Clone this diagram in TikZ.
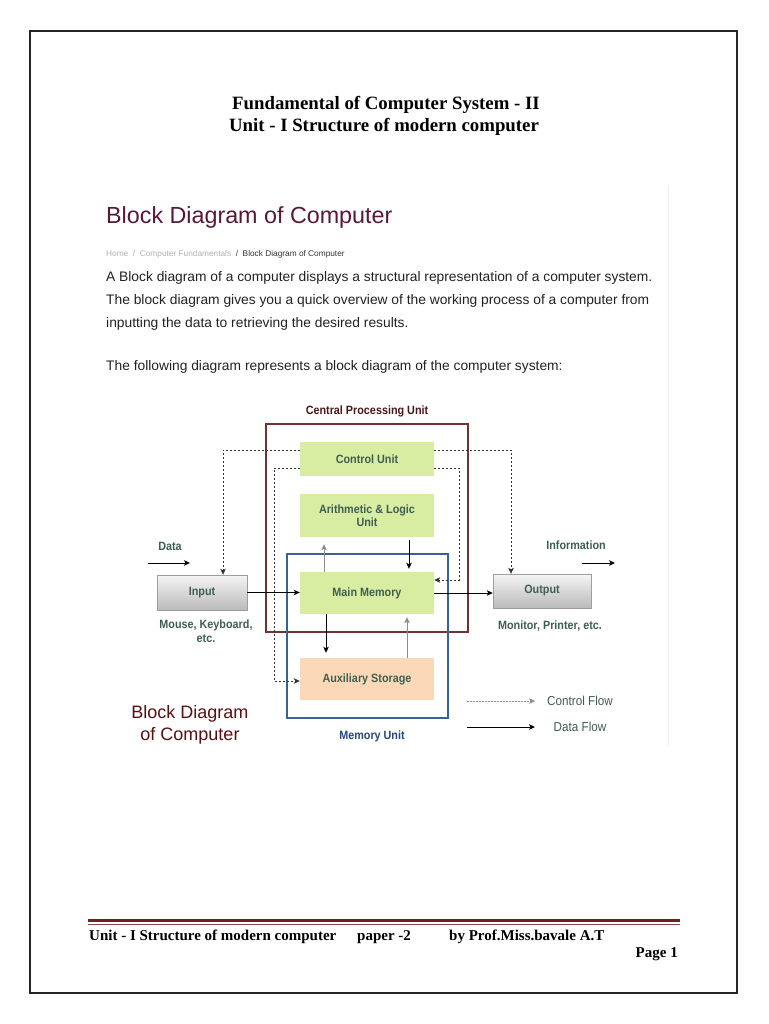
\documentclass[tikz,border=0pt]{standalone}
\usepackage{fontspec}
\setmainfont{Liberation Serif}
\newfontfamily\arialf{Liberation Sans}
\newfontfamily\diagf[FakeStretch=0.9]{Liberation Sans}
\usetikzlibrary{arrows.meta}
\definecolor{cpuc}{HTML}{6B3535}
\definecolor{memc}{HTML}{3A6190}
\definecolor{boxg}{HTML}{D8EDA2}
\definecolor{boxo}{HTML}{FCD9B6}
\definecolor{lbl}{HTML}{3F5E53}
\definecolor{headc}{HTML}{5A1838}
\definecolor{cputxt}{HTML}{4A1818}
\definecolor{memtxt}{HTML}{23477A}
\definecolor{footr}{HTML}{6E1F1F}
\definecolor{footl}{HTML}{9A4A4A}
\definecolor{bdc}{HTML}{5A1010}
\definecolor{txt}{HTML}{222222}
\tikzset{
  ttl/.style={font=\bfseries\fontsize{18.8}{22}\selectfont, anchor=base},
  para/.style={font=\arialf\fontsize{13.8}{16}\selectfont, text=txt, anchor=base west, inner sep=0},
  foot/.style={font=\bfseries\fontsize{15}{17}\selectfont, anchor=base west, inner sep=0},
  unitbox/.style={fill=boxg, draw=none, font=\diagf\bfseries\fontsize{12}{13.5}\selectfont, text=lbl, align=center, inner sep=0, minimum width=134pt},
  iobox/.style={draw=black!38, top color=black!4, bottom color=black!27, font=\diagf\bfseries\fontsize{12}{13.5}\selectfont, text=lbl, inner sep=0},
  lab/.style={font=\diagf\bfseries\fontsize{12}{13.5}\selectfont, text=lbl, align=center, inner sep=0},
  leg/.style={font=\diagf\fontsize{13}{15}\selectfont, text=lbl, inner sep=0},
  tip/.style={-{Stealth[length=6pt,width=5.5pt,inset=1.5pt]}},
  dataflow/.style={tip, line width=0.9pt, black},
  backflow/.style={tip, line width=0.9pt, black!45},
  ctrlflow/.style={tip, line width=0.8pt, black!80, dash pattern=on 2.2pt off 1.8pt},
}
\begin{document}
\begin{tikzpicture}[x=1pt,y=-1pt]
\useasboundingbox (0,0) rectangle (768,1024);
\fill[white] (0,0) rectangle (768,1024);
% page border
\draw[line width=1.4pt, black!85] (30,31) rectangle (737,993);
% title
\node[ttl] (t1) at (386,110) {Fundamental of Computer System - II};
\node[ttl] (t2) at (384,132) {Unit - I Structure of modern computer};
% faint screenshot edge
\draw[black!7, line width=1pt] (668,185) -- (668,746);
% web heading
\node[font=\arialf\fontsize{23.3}{27}\selectfont, text=headc, anchor=base west, inner sep=0] (h1) at (106,224) {Block Diagram of Computer};
\node[font=\arialf\fontsize{8.3}{9}\selectfont, anchor=base west, inner sep=0] (bc) at (106,256) {\textcolor{black!30}{Home\ \ /\ \ Computer Fundamentals}\ \ \textcolor{black!80}{/\ \ Block Diagram of Computer}};
\node[para] (p1) at (106,281) {A Block diagram of a computer displays a structural representation of a computer system.};
\node[para] (p2) at (106,304) {The block diagram gives you a quick overview of the working process of a computer from};
\node[para] (p3) at (106,327) {inputting the data to retrieving the desired results.};
\node[para] (p4) at (106,370) {The following diagram represents a block diagram of the computer system:};
% diagram frames
\draw[cpuc, line width=1.8pt] (266,424) rectangle (468,632);
\node[font=\diagf\bfseries\fontsize{12}{13.5}\selectfont, text=cputxt] (cpul) at (367,411) {Central Processing Unit};
% unit boxes
\node[unitbox, minimum height=34pt] (cu) at (367,459) {Control Unit};
\node[unitbox, minimum height=43pt] (alu) at (367,515.5) {Arithmetic \& Logic\\Unit};
\node[unitbox, minimum height=42pt] (mm) at (367,593) {Main Memory};
\node[unitbox, minimum height=42pt, fill=boxo] (aux) at (367,679) {Auxiliary Storage};
\draw[memc, line width=1.8pt] (287,554) rectangle (448,718);
\node[font=\diagf\bfseries\fontsize{12}{13.5}\selectfont, text=memtxt] (meml) at (372,736) {Memory Unit};
% io boxes
\node[iobox, minimum width=90pt, minimum height=35pt] (in) at (202,592.5) {Input};
\node[iobox, minimum width=98pt, minimum height=34pt] (out) at (542,591) {Output};
\node[lab] (inl) at (206,631) {Mouse, Keyboard,\\etc.};
\node[lab] (outl) at (550,626) {Monitor, Printer, etc.};
\node[lab] (datal) at (170,546) {Data};
\node[lab] (infol) at (576,545) {Information};
\coordinate (da1) at (148,563);
\coordinate (da2) at (190,563);
\coordinate (ia1) at (582,563);
\coordinate (ia2) at (615,563);
\draw[dataflow] (da1) -- (da2);
\draw[dataflow] (ia1) -- (ia2);
% data connectors
\draw[dataflow] (in.east) -- (in.east -| mm.west);
\draw[dataflow] (mm.east) -- (mm.east -| out.west);
\draw[dataflow, shorten <=3pt, shorten >=3pt] ([xshift=42pt]alu.south) -- ([xshift=42pt]mm.north);
\draw[backflow, shorten >=7pt] ([xshift=-43pt]mm.north) -- ([xshift=-43pt]alu.south);
\draw[dataflow, shorten >=5pt] ([xshift=-41pt]mm.south) -- ([xshift=-41pt]aux.north);
\draw[backflow, shorten >=3pt] ([xshift=40pt]aux.north) -- ([xshift=40pt]mm.south);
% control connectors
\coordinate (cdl) at (274,681);
\coordinate (cdr) at (459,580);
\draw[ctrlflow] ([yshift=9pt]cu.west) -| ([xshift=21pt]in.north);
\draw[ctrlflow] ([yshift=9pt]cu.east) -| ([xshift=-31pt]out.north);
\draw[ctrlflow] ([yshift=-9pt]cu.west) -| (cdl) -- (aux.west |- cdl);
\draw[ctrlflow] ([yshift=-9pt]cu.east) -| (cdr) -- (mm.east |- cdr);
% legend
\coordinate (lc1) at (467,701);
\coordinate (lc2) at (535,701);
\coordinate (ld1) at (467,727);
\coordinate (ld2) at (535,727);
\draw[tip, black!45, line width=0.7pt, dash pattern=on 1.5pt off 1.5pt] (lc1) -- (lc2);
\draw[dataflow] (ld1) -- (ld2);
\node[leg] (lcl) at (580,701) {Control Flow};
\node[leg] (ldl) at (580,727) {Data Flow};
% big caption
\node[font=\arialf\fontsize{18}{22}\selectfont, text=bdc, align=center, inner sep=0] (bdl) at (190,725) {Block Diagram\\of Computer};
% footer
\draw[footr, line width=3pt] (88,920) -- (680,920);
\draw[footl, line width=1pt] (88,924) -- (680,924);
\node[foot] (f1) at (89,940) {Unit - I Structure of modern computer};
\node[foot] (f2) at (357,940) {paper -2};
\node[foot] (f3) at (449,940) {by Prof.Miss.bavale A.T};
\node[foot, anchor=base east] (f4) at (678,957) {Page 1};
\end{tikzpicture}
\end{document}
